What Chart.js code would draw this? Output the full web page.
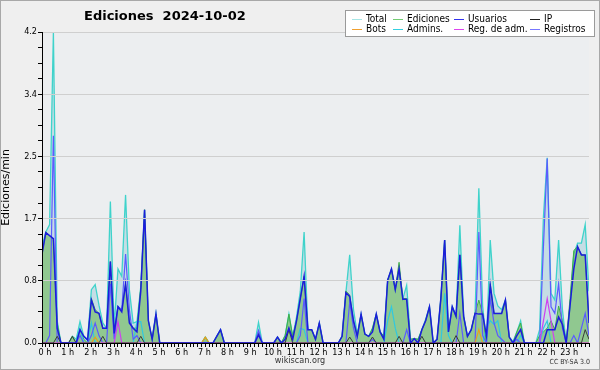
<!DOCTYPE html>
<html>
<head>
<meta charset="utf-8">
<script src="https://cdn.jsdelivr.net/npm/chart.js@4"></script>
<style>
  body { margin: 0; background: #efefef; }
  #wrap { position: relative; width: 600px; height: 370px; overflow: hidden; }
  #frame { position: absolute; left: 0; top: 0; width: 600px; height: 370px; box-sizing: border-box; border: 1px solid #a8a8a8; pointer-events: none; }
  #title { position: absolute; left: 84px; top: 8px; font: bold 13px 'DejaVu Sans', sans-serif; white-space: pre; color: #000; }
  #legend { position: absolute; left: 345px; top: 10px; width: 250px; height: 27px; box-sizing: border-box; background: #fff; border: 1px solid #9a9a9a; }
  .item { position: absolute; font: 10px 'DejaVu Sans Condensed', 'DejaVu Sans', sans-serif; line-height: 10px; color: #000; white-space: nowrap; }
  .swatch { position: absolute; width: 10px; height: 1px; }
  #site { position: absolute; left: 0; width: 600px; top: 355px; text-align: center; font: 9px 'DejaVu Sans Condensed', 'DejaVu Sans', sans-serif; color: #333; }
  #cc { position: absolute; right: 10px; top: 358px; font: 7px 'DejaVu Sans Condensed', 'DejaVu Sans', sans-serif; color: #333; }
</style>
</head>
<body>
<div id="wrap">
  <canvas id="chart" width="600" height="370"></canvas>
  <div id="title">Ediciones  2024-10-02</div>
  <div id="legend"></div>
  <div id="site">wikiscan.org</div>
  <div id="cc">CC BY-SA 3.0</div>
  <div id="frame"></div>
</div>
<script>
// one value every 10 minutes, 00:00 .. 24:00 (one row per hour)
const total = [
  1.3, 1.5, 1.6, 4.2, 0.3, 0,
  0, 0, 0.09, 0.05, 0.29, 0.09,
  0.05, 0.72, 0.79, 0.51, 0.27, 0.2,
  1.91, 0.22, 1.0, 0.9, 2.0, 0.72,
  0.27, 0.29, 0.76, 1.8, 0.31, 0.05,
  0.4, 0, 0, 0, 0, 0,
  0, 0, 0, 0, 0, 0,
  0, 0.08, 0, 0, 0.09, 0.18,
  0, 0, 0, 0, 0, 0,
  0, 0, 0, 0.28, 0, 0,
  0, 0, 0.08, 0, 0.1, 0.39,
  0.09, 0.35, 0.7, 1.5, 0.18, 0.18,
  0.05, 0.27, 0, 0, 0, 0,
  0, 0.09, 0.68, 1.19, 0.45, 0.12,
  0.39, 0.12, 0.09, 0.2, 0.39, 0.15,
  0.09, 0.85, 1.0, 0.72, 1.0, 0.6,
  0.78, 0.05, 0.06, 0.05, 0.18, 0.32,
  0.49, 0, 0.05, 0.6, 1.39, 0.15,
  0.49, 0.36, 1.59, 0.36, 0.09, 0.18,
  0.4, 2.09, 0.5, 0, 1.39, 0.67,
  0.5, 0.45, 0.58, 0.08, 0.02, 0.15,
  0.3, 0, 0, 0, 0, 0.18,
  1.7, 2.5, 0.67, 0.58, 1.39, 0.45,
  0, 0.5, 1.2, 1.35, 1.35, 1.6,
  0.7
];
const ediciones = [
  1.2, 1.5, 1.45, 1.4, 0.27, 0,
  0, 0, 0.09, 0, 0.18, 0.05,
  0, 0.6, 0.45, 0.4, 0.2, 0.2,
  1.1, 0.15, 0.5, 0.45, 0.8, 0.3,
  0.2, 0.2, 0.75, 1.8, 0.3, 0.05,
  0.39, 0, 0, 0, 0, 0,
  0, 0, 0, 0, 0, 0,
  0, 0.08, 0, 0, 0.09, 0.18,
  0, 0, 0, 0, 0, 0,
  0, 0, 0, 0.15, 0, 0,
  0, 0, 0.08, 0, 0.1, 0.39,
  0.09, 0.3, 0.6, 0.9, 0.18, 0.18,
  0.05, 0.27, 0, 0, 0, 0,
  0, 0.09, 0.7, 0.65, 0.3, 0.09,
  0.39, 0.12, 0.09, 0.2, 0.39, 0.15,
  0.09, 0.85, 1.0, 0.72, 1.09, 0.6,
  0.6, 0.05, 0.06, 0.05, 0.18, 0.3,
  0.49, 0, 0.05, 0.6, 1.39, 0.15,
  0.49, 0.36, 1.19, 0.36, 0.09, 0.18,
  0.4, 0.58, 0.4, 0, 0.8, 0.4,
  0.4, 0.4, 0.58, 0.08, 0, 0.15,
  0.27, 0, 0, 0, 0, 0.1,
  0.15, 0.2, 0.3, 0.18, 0.5, 0.3,
  0, 0.6, 1.25, 1.3, 1.19, 1.19,
  0.3
];
const usuarios = [
  1.2, 1.49, 1.45, 1.41, 0.2, 0,
  0, 0, 0, 0, 0.18, 0.09,
  0.04, 0.58, 0.42, 0.4, 0.2, 0.2,
  1.1, 0.13, 0.49, 0.42, 0.8, 0.27,
  0.2, 0.15, 0.7, 1.8, 0.3, 0.05,
  0.39, 0, 0, 0, 0, 0,
  0, 0, 0, 0, 0, 0,
  0, 0, 0, 0, 0.09, 0.18,
  0, 0, 0, 0, 0, 0,
  0, 0, 0, 0.11, 0, 0,
  0, 0, 0.08, 0, 0.05, 0.2,
  0.05, 0.3, 0.6, 0.9, 0.18, 0.18,
  0.05, 0.27, 0, 0, 0, 0,
  0, 0.09, 0.68, 0.63, 0.3, 0.09,
  0.39, 0.12, 0.09, 0.15, 0.39, 0.15,
  0.05, 0.85, 1.0, 0.72, 1.0, 0.59,
  0.59, 0, 0.06, 0, 0.18, 0.3,
  0.49, 0, 0.05, 0.6, 1.39, 0.15,
  0.49, 0.36, 1.19, 0.36, 0.09, 0.18,
  0.4, 0.39, 0.39, 0.1, 0.78, 0.4,
  0.4, 0.4, 0.58, 0.08, 0, 0.1,
  0.18, 0, 0, 0, 0, 0,
  0, 0.18, 0.18, 0.18, 0.35, 0.25,
  0, 0.5, 1.0, 1.3, 1.19, 1.19,
  0.27
];
const ip = [
  0, 0, 0, 0, 0.09, 0,
  0, 0, 0.09, 0, 0, 0,
  0, 0, 0, 0, 0.09, 0,
  0, 0, 0, 0, 0, 0,
  0, 0, 0.09, 0, 0, 0,
  0, 0, 0, 0, 0, 0,
  0, 0, 0, 0, 0, 0,
  0, 0, 0, 0, 0, 0,
  0, 0, 0, 0, 0, 0,
  0, 0, 0, 0, 0, 0,
  0, 0, 0, 0, 0, 0.18,
  0, 0, 0, 0, 0, 0,
  0, 0, 0, 0, 0, 0,
  0, 0, 0, 0.08, 0, 0,
  0, 0, 0, 0.08, 0, 0,
  0, 0, 0, 0, 0.09, 0,
  0, 0, 0, 0, 0.09, 0,
  0, 0, 0, 0, 0, 0,
  0, 0.1, 0, 0, 0, 0,
  0, 0, 0, 0, 0, 0,
  0, 0, 0, 0, 0, 0,
  0, 0, 0, 0, 0, 0,
  0, 0, 0, 0, 0, 0,
  0, 0, 0, 0, 0, 0.18,
  0.05
];
const bots = [
  0, 0, 0, 0, 0, 0,
  0, 0, 0, 0, 0, 0,
  0, 0, 0.08, 0, 0, 0,
  0, 0, 0, 0, 0, 0,
  0, 0, 0, 0, 0, 0,
  0, 0, 0, 0, 0, 0,
  0, 0, 0, 0, 0, 0,
  0, 0.08, 0, 0, 0, 0,
  0, 0, 0, 0, 0, 0,
  0, 0, 0, 0, 0, 0,
  0, 0, 0, 0, 0, 0,
  0, 0, 0, 0, 0, 0,
  0, 0, 0, 0, 0, 0,
  0, 0, 0, 0, 0, 0,
  0, 0, 0, 0, 0, 0,
  0, 0, 0, 0, 0, 0,
  0, 0, 0, 0, 0, 0,
  0, 0, 0, 0, 0, 0,
  0, 0, 0, 0, 0, 0,
  0, 0.18, 0, 0, 0, 0,
  0, 0, 0, 0, 0, 0,
  0, 0, 0, 0, 0, 0,
  0, 0, 0, 0, 0, 0,
  0, 0, 0, 0, 0, 0,
  0
];
const admins = [
  0, 0, 0, 0, 0, 0,
  0, 0, 0, 0, 0.2, 0,
  0, 0.27, 0, 0, 0, 0,
  0, 0, 0, 0, 0, 0,
  0, 0.29, 0.29, 0, 0, 0,
  0, 0, 0, 0, 0, 0,
  0, 0, 0, 0, 0, 0,
  0, 0, 0, 0, 0, 0,
  0, 0, 0, 0, 0, 0,
  0, 0, 0, 0, 0, 0,
  0, 0, 0, 0, 0, 0,
  0, 0, 0.2, 0.18, 0, 0,
  0, 0, 0, 0, 0, 0,
  0, 0, 0, 0, 0, 0,
  0, 0, 0, 0, 0, 0,
  0, 0.3, 0.49, 0.2, 0, 0,
  0, 0, 0, 0, 0, 0,
  0, 0, 0, 0, 0.67, 0.1,
  0, 0, 0, 0, 0, 0,
  0, 0, 0, 0.2, 0.3, 0.25,
  0.3, 0, 0, 0, 0, 0,
  0.1, 0, 0, 0, 0, 0,
  0.2, 0.3, 0, 0, 0, 0,
  0, 0, 0, 0, 0, 0,
  0
];
const regAdm = [
  0, 0, 0, 0, 0, 0,
  0, 0, 0, 0, 0, 0,
  0, 0, 0, 0, 0, 0,
  0, 0, 0.29, 0, 0, 0,
  0, 0, 0, 0, 0, 0,
  0, 0, 0, 0, 0, 0,
  0, 0, 0, 0, 0, 0,
  0, 0, 0, 0, 0, 0,
  0, 0, 0, 0, 0, 0,
  0, 0, 0, 0, 0, 0,
  0, 0, 0, 0, 0, 0,
  0, 0, 0, 0, 0, 0,
  0, 0, 0, 0, 0, 0,
  0, 0, 0, 0, 0, 0,
  0, 0, 0, 0, 0, 0,
  0, 0, 0, 0, 0, 0,
  0, 0, 0, 0, 0, 0,
  0, 0, 0, 0, 0, 0,
  0, 0, 0, 0, 0, 0,
  0, 0, 0, 0, 0, 0,
  0, 0, 0, 0, 0, 0,
  0, 0, 0, 0, 0, 0,
  0.3, 0.6, 0.3, 0, 0, 0,
  0, 0, 0, 0, 0, 0,
  0
];
const registros = [
  0, 0, 0.1, 2.8, 0, 0,
  0, 0, 0, 0, 0.1, 0,
  0, 0.1, 0.27, 0.1, 0, 0,
  0.8, 0.05, 0.49, 0.45, 1.2, 0.45,
  0.05, 0.1, 0, 0, 0, 0,
  0, 0, 0, 0, 0, 0,
  0, 0, 0, 0, 0, 0,
  0, 0, 0, 0, 0, 0,
  0, 0, 0, 0, 0, 0,
  0, 0, 0, 0.17, 0, 0,
  0, 0, 0, 0, 0, 0,
  0, 0, 0.1, 0.6, 0, 0,
  0, 0, 0, 0, 0, 0,
  0, 0, 0, 0.55, 0.2, 0,
  0, 0, 0, 0.05, 0, 0,
  0, 0, 0, 0, 0, 0,
  0.18, 0, 0, 0, 0, 0,
  0, 0, 0, 0, 0, 0,
  0, 0, 0.4, 0, 0, 0,
  0, 1.5, 0.1, 0, 0.6, 0.27,
  0.1, 0.05, 0, 0, 0, 0.05,
  0, 0, 0, 0, 0, 0,
  1.3, 2.49, 0.49, 0.4, 0.8, 0.2,
  0, 0, 0.1, 0, 0.2, 0.4,
  0.1
];

const stepMinutes = 10;
const yMax = 4.2;
const yLabels = ['0.0', '0.8', '1.7', '2.5', '3.4', '4.2'];

// label, values, plot colour, legend colour, draw order (lower = on top)
const series = [
  { label: 'Total', values: total, color: '#3fd3cb', legend: '#a6e6e6', order: 10, width: 1.3, fill: 'rgba(150,200,215,0.45)' },
  { label: 'Ediciones', values: ediciones, color: '#40b048', legend: '#74cc74', order: 9, width: 1, fill: 'rgba(80,175,40,0.45)' },
  { label: 'Usuarios', values: usuarios, color: '#1c1cdc', legend: '#3333ee', order: 2, width: 1.5 },
  { label: 'IP', values: ip, color: '#3a3a3a', legend: '#222222', order: 3, width: 1 },
  { label: 'Bots', values: bots, color: '#e8a020', legend: '#f0a030', order: 5, width: 1.2 },
  { label: 'Admins.', values: admins, color: '#30c8e0', legend: '#33d0e0', order: 8, width: 1.2 },
  { label: 'Reg. de adm.', values: regAdm, color: '#d040f0', legend: '#dd44ee', order: 4, width: 1.2 },
  { label: 'Registros', values: registros, color: '#5b5bff', legend: '#7777ff', order: 6, width: 1.2 },
];

const datasets = series.map(s => ({
  label: s.label,
  data: s.values.map((v, i) => ({ x: i * stepMinutes, y: v })),
  borderColor: s.color,
  borderWidth: s.width,
  backgroundColor: s.fill || s.color,
  fill: s.fill ? 'origin' : false,
  order: s.order,
  pointRadius: 0,
  tension: 0,
}));

// legend box
const legendEl = document.getElementById('legend');
const colLeft = [6, 47, 108, 184];
series.forEach((s, i) => {
  const col = i % 4, row = Math.floor(i / 4);
  const sw = document.createElement('div');
  sw.className = 'swatch';
  sw.style.left = colLeft[col] + 'px';
  sw.style.top = (8 + row * 10) + 'px';
  sw.style.background = s.legend;
  legendEl.appendChild(sw);
  const tx = document.createElement('div');
  tx.className = 'item';
  tx.style.left = (colLeft[col] + 14) + 'px';
  tx.style.top = (3 + row * 10) + 'px';
  tx.textContent = s.label;
  legendEl.appendChild(tx);
});

const backdrop = {
  id: 'backdrop',
  beforeDraw(chart) {
    const { ctx, chartArea: a } = chart;
    ctx.save();
    ctx.fillStyle = '#efefef';
    ctx.fillRect(0, 0, chart.width, chart.height);
    ctx.fillStyle = '#eceef0';
    ctx.fillRect(a.left, a.top, a.right - a.left, a.bottom - a.top);
    ctx.restore();
  }
};

const tickFont = { family: "'DejaVu Sans Condensed', 'DejaVu Sans', sans-serif", size: 9 };

new Chart(document.getElementById('chart'), {
  type: 'line',
  data: { datasets },
  options: {
    responsive: false,
    animation: false,
    layout: { padding: { top: 32, right: 11, left: 0, bottom: 0 } },
    plugins: {
      legend: { display: false },
      title: { display: false },
      tooltip: { enabled: false },
    },
    scales: {
      x: {
        type: 'linear',
        min: 0,
        max: 1440,
        afterBuildTicks: scale => {
          const t = [];
          for (let m = 0; m <= 1440; m += stepMinutes) t.push({ value: m });
          scale.ticks = t;
        },
        afterFit: scale => { scale.height = 27; },
        grid: { drawOnChartArea: false, color: '#000', tickLength: 4 },
        border: { color: '#000', z: 2 },
        ticks: {
          autoSkip: false,
          maxRotation: 0,
          padding: 0,
          labelOffset: 3,
          color: '#000',
          font: tickFont,
          callback: v => (v % 60 === 0 && v < 1440) ? (v / 60) + ' h' : '',
        },
      },
      y: {
        min: 0,
        max: yMax,
        afterBuildTicks: scale => {
          const t = [];
          for (let i = 0; i <= 20; i++) t.push({ value: +(i * yMax / 20).toFixed(3) });
          scale.ticks = t;
        },
        afterFit: scale => { scale.width = 42; },
        grid: {
          z: 1,
          color: c => (c.index % 4 === 0 ? '#cfcfcf' : 'rgba(0,0,0,0)'),
          tickColor: '#000',
          tickLength: 4,
        },
        border: { color: '#000', z: 2 },
        ticks: {
          autoSkip: false,
          padding: 1,
          color: '#000',
          font: tickFont,
          callback: (v, i) => (i % 4 === 0 ? yLabels[i / 4] : ''),
        },
        title: {
          display: true,
          text: 'Ediciones/min',
          color: '#000',
          padding: 0,
          font: { family: "'DejaVu Sans', sans-serif", size: 11 },
        },
      },
    },
  },
  plugins: [backdrop],
});
</script>
</body>
</html>
